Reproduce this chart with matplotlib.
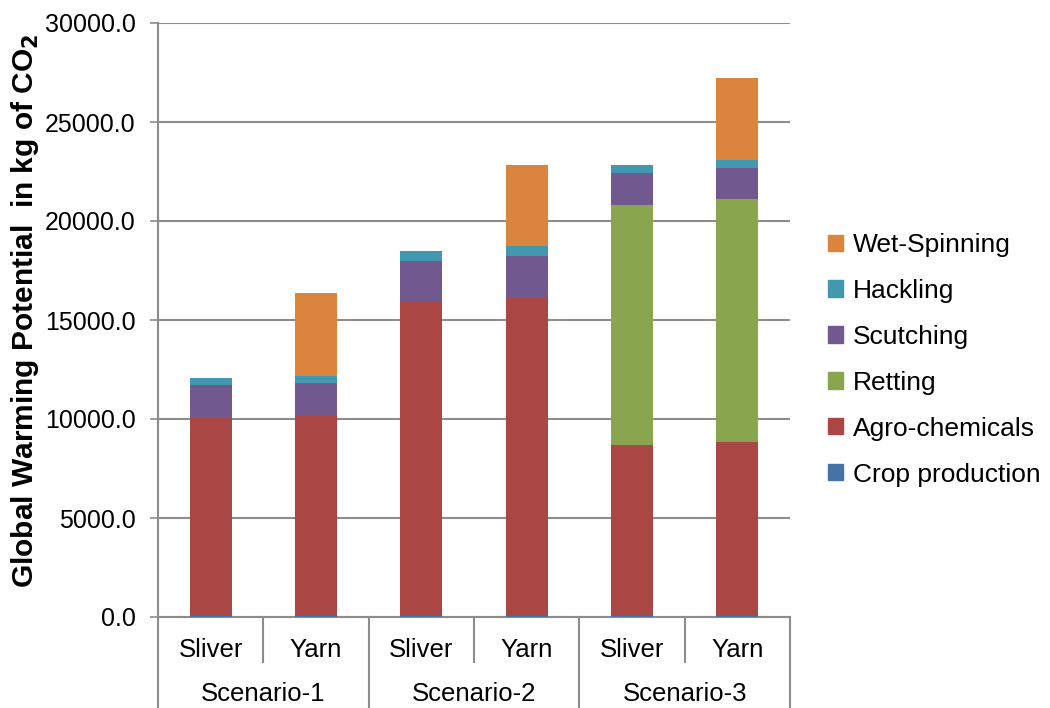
import numpy as np
import matplotlib.pyplot as plt
from matplotlib.patches import Patch

plt.rcParams['font.family'] = ['Liberation Sans', 'DejaVu Sans']

bars = ['Sliver', 'Yarn', 'Sliver', 'Yarn', 'Sliver', 'Yarn']
scenarios = ['Scenario-1', 'Scenario-2', 'Scenario-3']
stages = ['Crop production', 'Agro-chemicals', 'Retting', 'Scutching', 'Hackling', 'Wet-Spinning']
colors = ['#4572A7', '#AA4643', '#89A54E', '#71588F', '#4198AF', '#DB843D']

crop_production = [30, 30, 30, 30, 30, 30]
agro_chemicals = [10020, 10190, 15910, 16080, 8670, 8810]
retting = [0, 0, 0, 0, 12120, 12250]
scutching = [1650, 1620, 2060, 2100, 1590, 1580]
hackling = [370, 350, 500, 510, 400, 400]
wet_spinning = [0, 4150, 0, 4120, 0, 4140]
series = [crop_production, agro_chemicals, retting, scutching, hackling, wet_spinning]

fig = plt.figure(figsize=(10.5, 7.08), dpi=100)
ax = fig.add_axes([158 / 1050, 1 - 617 / 708, 632 / 1050, 594 / 708])

x = np.arange(len(bars))
bottom = np.zeros(len(bars))
for vals, col in zip(series, colors):
    ax.bar(x, vals, 0.4, bottom=bottom, color=col, edgecolor='none', zorder=3)
    bottom += np.array(vals)

ax.set_xlim(-0.5, len(bars) - 0.5)
ax.set_ylim(0, 30000)
ax.set_yticks(np.arange(0, 30001, 5000))
ax.set_yticklabels(['%.1f' % v for v in np.arange(0, 30001, 5000)])
ax.yaxis.grid(True, color='#8C8C8C', linewidth=1.5, zorder=0)
ax.tick_params(axis='y', length=6, width=1.2, color='#8C8C8C', pad=10, labelsize=18)
ax.set_xticks([])
for s in ['top', 'right']:
    ax.spines[s].set_visible(False)
for s in ['left', 'bottom']:
    ax.spines[s].set_color('#8C8C8C')
    ax.spines[s].set_linewidth(1.5)

# category separators below the axis
tr = ax.get_xaxis_transform()
h_in = 45 / 594
h_out = 91 / 594
for xs in [0.5, 2.5, 4.5]:
    ax.plot([xs, xs], [0, -h_in], transform=tr, color='#8C8C8C', lw=1.5, clip_on=False)
for xs in [-0.5, 1.5, 3.5, 5.5]:
    ax.plot([xs, xs], [0, -h_out], transform=tr, color='#8C8C8C', lw=1.5, clip_on=False)
for xi, lab in zip(x, bars):
    ax.text(xi, -33 / 594, lab, transform=tr, ha='center', va='center', fontsize=18.5)
for i, lab in enumerate(scenarios):
    ax.text(2 * i + 0.5, -77 / 594, lab, transform=tr, ha='center', va='center', fontsize=18.5)

ax.set_ylabel('Global Warming Potential  in kg of CO$_\\mathbf{2}$', fontsize=21.5, fontweight='bold')
ax.yaxis.set_label_coords(-0.185, 0.515)

handles = [Patch(color=c) for c in colors][::-1]
fig.legend(handles, stages[::-1], loc='upper left', bbox_to_anchor=(828 / 1050, 1 - 233 / 708),
           frameon=False, fontsize=19, handlelength=0.57, handleheight=0.57,
           handletextpad=0.38, labelspacing=0.83, borderpad=0, borderaxespad=0)

plt.savefig('out.png', dpi=100)
